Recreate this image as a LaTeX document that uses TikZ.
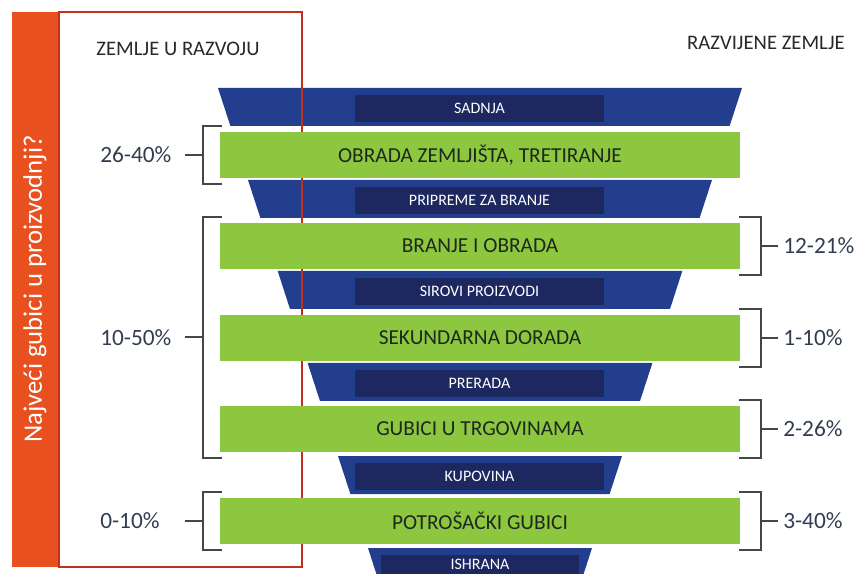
\documentclass[tikz,border=0pt]{standalone}
\usepackage{fontspec}
\setmainfont{Carlito}
\usetikzlibrary{positioning,calc}

\definecolor{barorange}{RGB}{232,80,31}
\definecolor{framered}{RGB}{192,48,30}
\definecolor{funnelblue}{RGB}{35,62,140}
\definecolor{stageblue}{RGB}{28,40,95}
\definecolor{lossgreen}{RGB}{141,198,63}
\definecolor{losstext}{RGB}{30,40,30}
\definecolor{bracketgray}{RGB}{70,70,70}
\definecolor{pcttext}{RGB}{50,60,80}
\definecolor{headtext}{RGB}{40,40,40}

\begin{document}
\begin{tikzpicture}[x=0.75pt,y=-0.75pt,
   funnel/.style={fill=funnelblue},
   stage/.style={fill=stageblue,text=white,font=\fontsize{12}{14}\selectfont,
      minimum width=186.75pt,minimum height=20.25pt,inner sep=0pt},
   loss/.style={fill=lossgreen,text=losstext,font=\fontsize{16}{19}\selectfont,
      minimum width=390pt,minimum height=34.5pt,inner sep=0pt},
   bracket/.style={draw=bracketgray,line width=1.5pt},
   pct/.style={text=pcttext,font=\fontsize{17.5}{20}\selectfont,anchor=west,inner sep=0pt},
   head/.style={text=headtext,font=\fontsize{15.5}{18}\selectfont}]
   \useasboundingbox (0,0) rectangle (858,574);

   % left panel
   \fill[barorange] (12,12) rectangle (58,567);
   \node[rotate=90,text=white,font=\fontsize{20}{24}\selectfont] (pitanje) at (35,289) {Najveći gubici u proizvodnji?};
   \node[head] (razvoj) at (178,49) {ZEMLJE U RAZVOJU};
   \node[head] (razvijene) at (766,43) {RAZVIJENE ZEMLJE};

   % funnel
   \fill[funnel] (218,88) -- (742,88) -- (729.6,126) -- (230.4,126) -- cycle;
   \fill[funnel] (248,180) -- (712,180) -- (699.6,218) -- (260.4,218) -- cycle;
   \fill[funnel] (277.7,271) -- (682.3,271) -- (670,309) -- (290,309) -- cycle;
   \fill[funnel] (307.6,363) -- (652.4,363) -- (640,401) -- (320,401) -- cycle;
   \fill[funnel] (338,456) -- (622,456) -- (609.6,494) -- (350.4,494) -- cycle;
   \fill[funnel] (368,548) -- (592,548) -- (583.6,574) -- (376.4,574) -- cycle;
   \node[stage] (sadnja)   at (479.5,108.5) {SADNJA};
   \node[stage] (pripreme) at (479.5,200.5) {PRIPREME ZA BRANJE};
   \node[stage] (sirovi)   at (479.5,291.5) {SIROVI PROIZVODI};
   \node[stage] (prerada)  at (479.5,383.5) {PRERADA};
   \node[stage] (kupovina) at (479.5,476.5) {KUPOVINA};
   \node[stage,minimum width=148.5pt,minimum height=14.25pt] (ishrana) at (480,564.5) {ISHRANA};

   \draw[framered,line width=2pt] (59,12) rectangle (302,567);

   \node[loss] (obrada)     at (480,155) {OBRADA ZEMLJIŠTA, TRETIRANJE};
   \node[loss] (branje)     at (480,246) {BRANJE I OBRADA};
   \node[loss] (sekundarna) at (480,338) {SEKUNDARNA DORADA};
   \node[loss] (trgovina)   at (480,429) {GUBICI U TRGOVINAMA};
   \node[loss] (potrosac)   at (480,521) {POTROŠAČKI GUBICI};

   % zemlje u razvoju
   \draw[bracket] ([shift={(2,-6)}]obrada.north west) -- ++(-19,0) |- ([shift={(2,6)}]obrada.south west);
   \draw[bracket] ([shift={(2,-6)}]branje.north west) -- ++(-19,0) |- ([shift={(2,6)}]trgovina.south west);
   \draw[bracket] ([shift={(2,-6)}]potrosac.north west) -- ++(-19,0) |- ([shift={(2,6)}]potrosac.south west);
   \draw[bracket] ($(obrada.west)+(-17,0)$) -- ++(-18,0);
   \draw[bracket] ($(branje.north west)!0.5!(trgovina.south west)+(-17,0)$) -- ++(-18,0);
   \draw[bracket] ($(potrosac.west)+(-17,0)$) -- ++(-18,0);
   \node[pct] (p2640) at (100,155) {26-40\%};
   \node[pct] (p1050) at (100,338) {10-50\%};
   \node[pct] (p0010) at (100,521) {0-10\%};

   % razvijene zemlje
   \draw[bracket] ([shift={(-1,-6)}]branje.north east) -- ++(22,0) |- ([shift={(-1,6)}]branje.south east);
   \draw[bracket] ([shift={(-1,-6)}]sekundarna.north east) -- ++(22,0) |- ([shift={(-1,6)}]sekundarna.south east);
   \draw[bracket] ([shift={(-1,-6)}]trgovina.north east) -- ++(22,0) |- ([shift={(-1,6)}]trgovina.south east);
   \draw[bracket] ([shift={(-1,-6)}]potrosac.north east) -- ++(22,0) |- ([shift={(-1,6)}]potrosac.south east);
   \draw[bracket] ($(branje.east)+(21,0)$) -- ++(17,0);
   \draw[bracket] ($(sekundarna.east)+(21,0)$) -- ++(17,0);
   \draw[bracket] ($(trgovina.east)+(21,0)$) -- ++(17,0);
   \draw[bracket] ($(potrosac.east)+(21,0)$) -- ++(17,0);
   \node[pct] (p1221) at (783,246) {12-21\%};
   \node[pct] (p0110) at (783,338) {1-10\%};
   \node[pct] (p0226) at (783,429) {2-26\%};
   \node[pct] (p0340) at (783,521) {3-40\%};
\end{tikzpicture}
\end{document}
